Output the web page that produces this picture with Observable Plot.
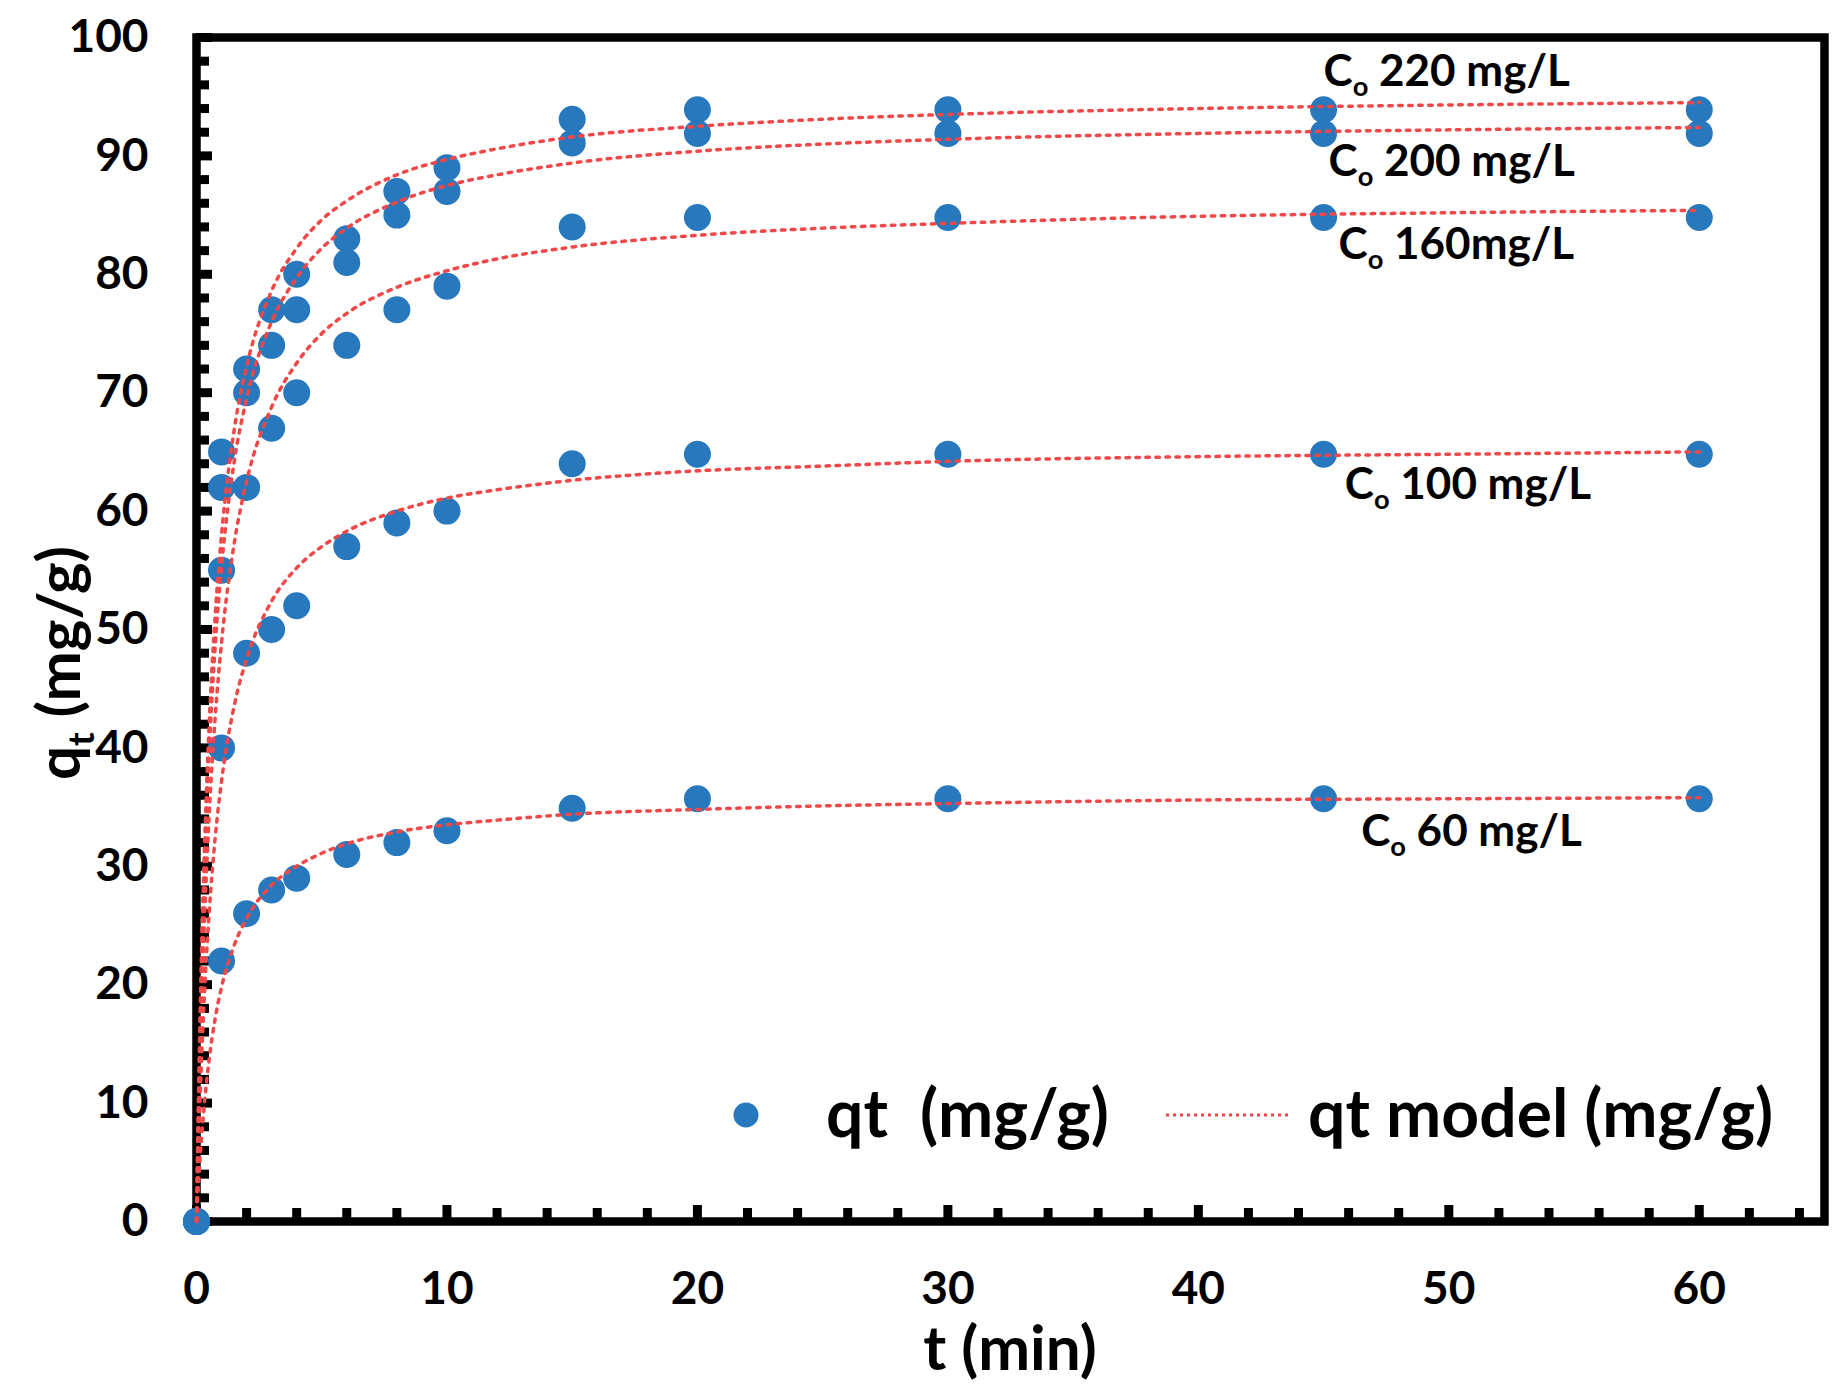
<!DOCTYPE html>
<html><head><meta charset="utf-8">
<script src="https://cdn.jsdelivr.net/npm/d3@7"></script>
<script src="https://cdn.jsdelivr.net/npm/@observablehq/plot@0.6"></script>
<style>html,body{margin:0;background:#fff} svg{display:block} text{white-space:pre}</style>
</head><body><div id="chart"></div>
<script>
// Measured data: t (min) and qt (mg/g) for each initial concentration
const times = [0, 1, 2, 3, 4, 6, 8, 10, 15, 20, 30, 45, 60];
const seriesNames = ["220", "200", "160", "100", "60"];
const q220 = [0, 65, 72, 77, 80, 83, 87, 89, 93.1, 93.9, 93.9, 93.9, 93.9];
const q200 = [0, 62, 70, 74, 77, 81, 85, 87, 91.1, 91.9, 91.9, 91.9, 91.9];
const q160 = [0, 55, 62, 67, 70, 74, 77, 79, 84.0, 84.8, 84.8, 84.8, 84.8];
const q100 = [0, 40, 48, 50, 52, 57, 59, 60, 64.0, 64.8, 64.8, 64.8, 64.8];
const q60  = [0, 22, 26, 28, 29, 31, 32, 33, 34.9, 35.7, 35.7, 35.7, 35.7];

// Model curves
const modelTimes = [0, 0.1, 0.2, 0.3, 0.5, 0.75, 1, 1.5, 2, 3, 4, 5, 6, 8, 10, 12, 15, 20, 25, 30, 40, 50, 60];
const m220 = [0, 12.8, 22.6, 30.3, 41.7, 51.3, 58.0, 66.8, 72.2, 78.6, 82.2, 84.6, 86.2, 88.4, 89.7, 90.6, 91.6, 92.5, 93.1, 93.5, 94.0, 94.3, 94.5];
const m200 = [0, 11.8, 21.0, 28.3, 39.3, 48.7, 55.3, 64.1, 69.5, 76.0, 79.7, 82.2, 83.9, 86.1, 87.5, 88.4, 89.4, 90.4, 91.0, 91.4, 91.9, 92.2, 92.4];
const m160 = [0, 10.0, 17.8, 24.3, 34.1, 42.7, 48.9, 57.2, 62.5, 68.8, 72.5, 75.0, 76.7, 78.9, 80.3, 81.3, 82.3, 83.3, 83.9, 84.3, 84.9, 85.2, 85.4];
const m100 = [0, 7.6, 13.6, 18.5, 25.9, 32.5, 37.2, 43.5, 47.5, 52.4, 55.2, 57.0, 58.3, 60.0, 61.1, 61.8, 62.6, 63.4, 63.8, 64.2, 64.6, 64.8, 65.0];
const m60  = [0, 3.9, 7.0, 9.6, 13.6, 17.2, 19.8, 23.3, 25.6, 28.4, 30.0, 31.1, 31.9, 32.9, 33.5, 33.9, 34.4, 34.8, 35.1, 35.3, 35.6, 35.7, 35.8];

// Curve labels
const labelText = ["Co 220 mg/L", "Co 200 mg/L", "Co 160mg/L", "Co 100 mg/L", "Co 60 mg/L"];
const labelT = [45.0, 45.2, 45.6, 45.85, 46.5];
const labelQ = [97.1, 89.5, 82.5, 62.2, 32.9];

// Tick values
const xMajor = [0, 10, 20, 30, 40, 50, 60];
const xMinor = [2, 4, 6, 8, 12, 14, 16, 18, 22, 24, 26, 28, 32, 34, 36, 38, 42, 44, 46, 48, 52, 54, 56, 58, 62, 64];
const yMajor = [0, 10, 20, 30, 40, 50, 60, 70, 80, 90, 100];
const yMinor = [2, 4, 6, 8, 12, 14, 16, 18, 22, 24, 26, 28, 32, 34, 36, 38, 42, 44, 46, 48, 52, 54, 56, 58, 62, 64, 66, 68, 72, 74, 76, 78, 82, 84, 86, 88, 92, 94, 96, 98];

const measured = [q220, q200, q160, q100, q60];
const models = [m220, m200, m160, m100, m60];
const points = seriesNames.flatMap((s, i) => times.map((t, j) => ({s, t, q: measured[i][j]})));
const curves = seriesNames.flatMap((s, i) => modelTimes.map((t, j) => ({s, t, q: models[i][j]})));
const labels = labelText.map((text, i) => ({text, t: labelT[i], q: labelQ[i]}));

const BLUE = "#2778bd", RED = "#f04848", FONT = "Lato, 'Open Sans', sans-serif";
const LABEL_SIZE = 44;
const W = 1846, H = 1392, ML = 196, MR = 22, MT = 37, MB = 171;
const PW = W - ML - MR, PH = H - MT - MB;
const TW = 9; // tick stroke width

const plot = Plot.plot({
  width: W, height: H,
  marginLeft: ML, marginRight: MR, marginTop: MT, marginBottom: MB,
  x: {domain: [0, 65]},
  y: {domain: [0, 100]},
  style: {fontFamily: FONT, fontWeight: "bold", color: "#000", background: "#fff", overflow: "visible"},
  marks: [
    // inward tick marks
    Plot.tickY(yMinor, {y: d => d, stroke: "#000", strokeWidth: TW, insetRight: PW - 13}),
    Plot.tickY(yMajor, {y: d => d, stroke: "#000", strokeWidth: TW, insetRight: PW - 16}),
    Plot.tickX(xMinor, {x: d => d, stroke: "#000", strokeWidth: TW, insetTop: PH - 13}),
    Plot.tickX(xMajor, {x: d => d, stroke: "#000", strokeWidth: TW, insetTop: PH - 16}),
    // tick labels
    Plot.axisY(yMajor, {tickSize: 0, tickPadding: 48, fontSize: 46, fill: "#000", label: null}),
    Plot.axisX(xMajor, {tickSize: 0, tickPadding: 50, fontSize: 46, fill: "#000", label: null}),
    Plot.frame({stroke: "#000", strokeWidth: 8.5}),
    Plot.dot(points, {x: "t", y: "q", r: 13.5, fill: BLUE, stroke: "none"}),
    Plot.line(curves, {x: "t", y: "q", z: "s", stroke: RED, strokeWidth: 3.5, strokeDasharray: "3.5,6.5", curve: "monotone-x"}),
    Plot.text(labels, {x: "t", y: "q", text: "text", textAnchor: "start", fontSize: LABEL_SIZE, fontWeight: "bold", fill: "#000"})
  ]
});

document.getElementById("chart").appendChild(plot);
const svg = d3.select(plot);

// subscript "o" in curve labels
svg.selectAll('g[aria-label="text"] text').each(function() {
  const s = this.textContent;
  const el = d3.select(this);
  el.text(null);
  el.append("tspan").text(s.slice(0, 1));
  el.append("tspan").attr("font-size", LABEL_SIZE * 0.62).attr("dy", 10).text(s.slice(1, 2));
  el.append("tspan").attr("dy", -10).text(s.slice(2));
});

// y-axis title with subscript t
const yt = svg.append("text")
  .attr("transform", "translate(80,663) rotate(-90)")
  .attr("text-anchor", "middle")
  .attr("font-family", FONT).attr("font-weight", "bold").attr("font-size", 60).attr("fill", "#000");
yt.append("tspan").text("q");
yt.append("tspan").attr("font-size", 37).attr("dy", 14).text("t");
yt.append("tspan").attr("dy", -14).text(" (mg/g)");

// x-axis title
svg.append("text")
  .attr("x", 1010).attr("y", 1370)
  .attr("text-anchor", "middle")
  .attr("font-family", FONT).attr("font-weight", "bold").attr("font-size", 62).attr("fill", "#000")
  .text("t (min)");

// legend inside the plot
const lg = svg.append("g").attr("font-family", FONT).attr("font-weight", "bold").attr("font-size", 66)
  .attr("fill", "#000").attr("text-anchor", "start");
lg.append("circle").attr("cx", 746).attr("cy", 1115).attr("r", 12.5).attr("fill", BLUE);
lg.append("text").attr("x", 826).attr("y", 1137).text("qt  (mg/g)");
lg.append("line").attr("x1", 1166).attr("x2", 1290).attr("y1", 1115).attr("y2", 1115)
  .attr("stroke", RED).attr("stroke-width", 3).attr("stroke-dasharray", "3,4");
lg.append("text").attr("x", 1308).attr("y", 1137).text("qt model (mg/g)");
</script>
</body></html>
